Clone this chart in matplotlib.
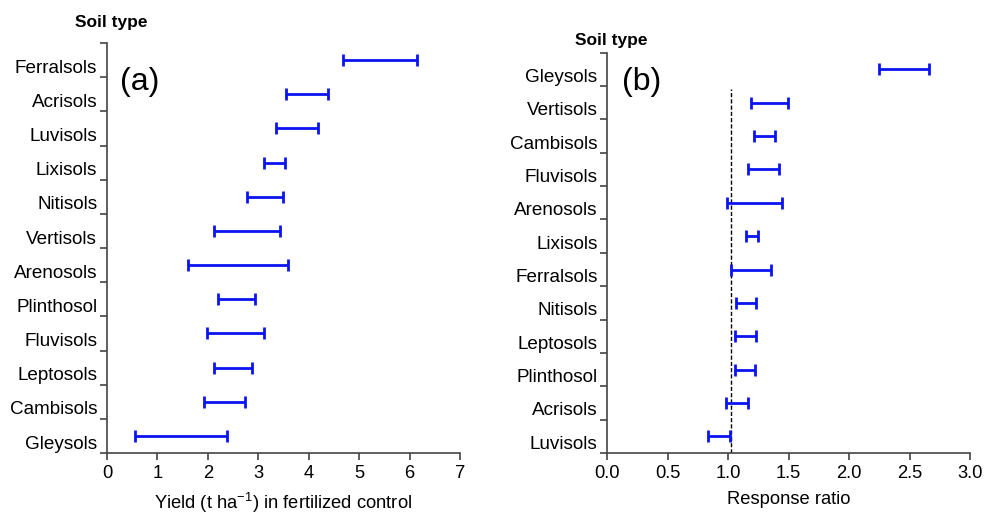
import numpy as np
import matplotlib
matplotlib.use("Agg")
import matplotlib.pyplot as plt

plt.rcParams['font.family'] = ['Liberation Sans', 'DejaVu Sans']
plt.rcParams['mathtext.fontset'] = 'custom'
plt.rcParams['mathtext.rm'] = 'Liberation Sans'
plt.rcParams['mathtext.default'] = 'regular'

# panel (a): yield range in fertilized control (t/ha), top to bottom
soils_a = ["Ferralsols", "Acrisols", "Luvisols", "Lixisols", "Nitisols", "Vertisols",
           "Arenosols", "Plinthosol", "Fluvisols", "Leptosols", "Cambisols", "Gleysols"]
low_a = [4.67, 3.55, 3.36, 3.12, 2.77, 2.13, 1.61, 2.20, 1.98, 2.12, 1.92, 0.56]
high_a = [6.14, 4.38, 4.19, 3.53, 3.49, 3.43, 3.58, 2.94, 3.11, 2.88, 2.73, 2.37]

# panel (b): response ratio range, top to bottom
soils_b = ["Gleysols", "Vertisols", "Cambisols", "Fluvisols", "Arenosols", "Lixisols",
           "Ferralsols", "Nitisols", "Leptosols", "Plinthosol", "Acrisols", "Luvisols"]
low_b = [2.25, 1.19, 1.21, 1.16, 0.99, 1.15, 1.02, 1.065, 1.055, 1.055, 0.98, 0.83]
high_b = [2.66, 1.495, 1.39, 1.42, 1.445, 1.25, 1.357, 1.23, 1.227, 1.22, 1.166, 1.015]

ref_line = 1.025

blue = '#0a14f0'
axcol = '#444444'

fig = plt.figure(figsize=(9.86, 5.15), dpi=100)
ax1 = fig.add_axes([107/986, 1-453/515, 353/986, 410/515])
ax2 = fig.add_axes([607.3/986, 1-453/515, 362.7/986, 400.3/515])


def draw_panel(ax, soils, low, high):
    n = len(soils)
    y = np.arange(n)[::-1]
    lo = np.array(low)
    hi = np.array(high)
    mid = (lo + hi) / 2
    ax.errorbar(mid, y, xerr=(hi - lo) / 2, fmt='none', ecolor=blue,
                elinewidth=2, capsize=4.5, capthick=2)
    ax.set_ylim(-0.5, n - 0.5)
    # labels sit slightly below the bar centres, ticks at category borders
    ax.set_yticks(y - 0.18)
    ax.set_yticklabels(soils, fontsize=13.6)
    ax.set_yticks(np.arange(n + 1) - 0.5, minor=True)
    ax.tick_params(axis='y', which='major', length=0, pad=7)
    ax.tick_params(axis='y', which='minor', length=5, width=1.2, color=axcol, direction='out')
    ax.tick_params(axis='x', length=5, width=1.2, color=axcol, labelsize=13.2, pad=4)
    for s in ['top', 'right']:
        ax.spines[s].set_visible(False)
    for s in ['left', 'bottom']:
        ax.spines[s].set_color(axcol)
        ax.spines[s].set_linewidth(1.2)


draw_panel(ax1, soils_a, low_a, high_a)
ax1.set_xlim(0, 7)
ax1.set_xticks(range(0, 8))
ax1.set_xlabel("Yield (t ha$^{-1}$) in fertilized control", fontsize=13.2, labelpad=6)

draw_panel(ax2, soils_b, low_b, high_b)
ax2.set_xlim(0, 3)
ax2.set_xticks(np.arange(0, 3.01, 0.5))
ax2.set_xticklabels(["%.1f" % v for v in np.arange(0, 3.01, 0.5)])
ax2.set_xlabel("Response ratio", fontsize=13.2, labelpad=6)
ax2.plot([ref_line, ref_line], [-0.5, 10.4], color='black', linestyle=(0, (3, 1.5)), linewidth=1, zorder=1)

fig.text(111.7/986, 1-22/515, "Soil type", fontsize=12.5, fontweight='bold', ha='center', va='center')
fig.text(611.7/986, 1-40/515, "Soil type", fontsize=12.5, fontweight='bold', ha='center', va='center')
fig.text(120/986, 1-82/515, "(a)", fontsize=23, ha='left', va='center')
fig.text(622/986, 1-82/515, "(b)", fontsize=23, ha='left', va='center')

fig.savefig("out.png", dpi=100)
